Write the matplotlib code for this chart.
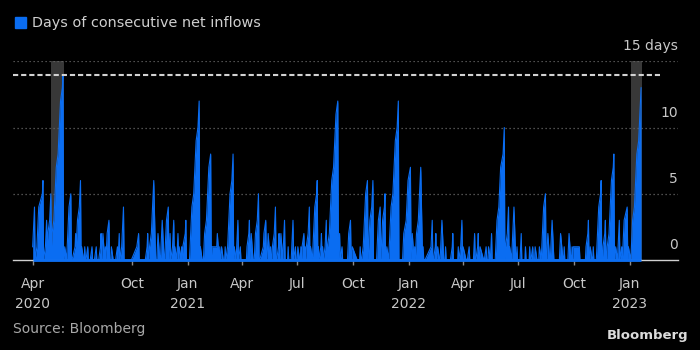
import numpy as np
import pandas as pd
import matplotlib
matplotlib.use('Agg')
import matplotlib.pyplot as plt
from matplotlib.patches import Rectangle

# streaks of net inflow days: last day of each streak and its length
streak_end = [
    '2020-04-23', '2020-05-07', '2020-05-13', '2020-05-20', '2020-06-09', '2020-06-12',
    '2020-06-22', '2020-06-30', '2020-07-08', '2020-07-10', '2020-07-15', '2020-07-20',
    '2020-07-27', '2020-08-03', '2020-08-11', '2020-08-14', '2020-08-18', '2020-08-24',
    '2020-08-28', '2020-09-07', '2020-09-10', '2020-09-17', '2020-10-12', '2020-10-27',
    '2020-11-06', '2020-11-13', '2020-11-20', '2020-11-30', '2020-12-03', '2020-12-09',
    '2020-12-11', '2020-12-16', '2020-12-18', '2020-12-22', '2020-12-29',
    '2021-01-20', '2021-01-22', '2021-02-08', '2021-02-10', '2021-02-19', '2021-02-23',
    '2021-02-26', '2021-03-04', '2021-03-17', '2021-03-19', '2021-03-25', '2021-03-29',
    '2021-04-13', '2021-04-16', '2021-04-28', '2021-05-10', '2021-05-14', '2021-05-18',
    '2021-05-26', '2021-06-01', '2021-06-04', '2021-06-10', '2021-06-16', '2021-06-24',
    '2021-06-28', '2021-07-02', '2021-07-07', '2021-07-12', '2021-07-14', '2021-07-21',
    '2021-07-23', '2021-08-03', '2021-08-05', '2021-08-10', '2021-08-12', '2021-08-18',
    '2021-09-06', '2021-09-09', '2021-09-13', '2021-09-27', '2021-09-30', '2021-10-13',
    '2021-10-25', '2021-11-03', '2021-11-15', '2021-11-23', '2021-11-26', '2021-12-15',
    '2022-01-04', '2022-01-07', '2022-01-11', '2022-01-21', '2022-01-25', '2022-02-09',
    '2022-02-15', '2022-02-18', '2022-02-25', '2022-03-03', '2022-03-15', '2022-03-24',
    '2022-03-30', '2022-04-01', '2022-04-11', '2022-04-20', '2022-04-26', '2022-04-29',
    '2022-05-09', '2022-05-13', '2022-05-18', '2022-06-08', '2022-06-15', '2022-06-17',
    '2022-06-24', '2022-06-29', '2022-07-06', '2022-07-13', '2022-07-20', '2022-07-25',
    '2022-07-29', '2022-08-05', '2022-08-15', '2022-08-19', '2022-08-26', '2022-09-09',
    '2022-09-15', '2022-09-23', '2022-09-28', '2022-09-30', '2022-10-10', '2022-10-25',
    '2022-10-28', '2022-11-02', '2022-11-15', '2022-11-22', '2022-12-06', '2022-12-09',
    '2022-12-15', '2022-12-19', '2022-12-28', '2022-12-30',
    '2023-01-20',
]
streak_len = [
    4, 6, 3, 5, 14, 1,
    5, 2, 6, 1, 1, 1,
    1, 1, 2, 2, 1, 3,
    1, 1, 2, 4, 2, 2,
    6, 2, 3, 4, 2, 3,
    1, 2, 1, 1, 3,
    12, 1, 8, 1, 2, 1,
    1, 1, 8, 1, 3, 1,
    3, 2, 5, 3, 2, 1,
    4, 2, 2, 3, 1, 3,
    1, 1, 1, 2, 1, 4,
    1, 6, 1, 2, 1, 3,
    12, 2, 1, 3, 1, 1,
    6, 6, 4, 5, 1, 12,
    7, 2, 1, 7, 1, 3,
    2, 1, 3, 1, 2, 1,
    3, 1, 1, 2, 2, 1,
    1, 1, 2, 10, 4, 1,
    4, 1, 2, 1, 1, 1,
    1, 1, 5, 2, 3, 2,
    1, 2, 1, 1, 1, 3,
    1, 1, 6, 3, 8, 1,
    3, 1, 4, 1,
    13,
]

# market closures (no data points)
holidays = [
    '2020-05-01', '2020-05-04', '2020-05-05', '2020-06-25', '2020-06-26',
    '2020-10-01', '2020-10-02', '2020-10-05', '2020-10-06', '2020-10-07', '2020-10-08',
    '2020-12-25', '2021-01-01', '2021-02-11', '2021-02-12', '2021-02-15', '2021-02-16',
    '2021-02-17', '2021-04-02', '2021-04-05', '2021-05-03', '2021-05-04', '2021-05-05',
    '2021-06-14', '2021-09-20', '2021-09-21', '2021-10-01', '2021-10-04', '2021-10-05',
    '2021-10-06', '2021-10-07', '2021-12-27', '2022-01-03', '2022-01-31', '2022-02-01',
    '2022-02-02', '2022-02-03', '2022-02-04', '2022-04-04', '2022-04-05', '2022-04-15',
    '2022-05-02', '2022-05-03', '2022-05-04', '2022-06-03', '2022-09-12', '2022-10-03',
    '2022-10-04', '2022-10-05', '2022-10-06', '2022-10-07', '2022-12-26', '2022-12-27',
    '2023-01-02',
]
first_day = '2020-04-20'
last_day = '2023-01-20'

record = 14
highlight = [('2020-05-21', '2020-06-10'), ('2023-01-03', '2023-01-21')]

y_ticks = [0, 5, 10, 15]
y_labels = ['0', '5', '10', '15 days']
x_ticks = ['2020-04-20', '2020-10-01', '2021-01-01', '2021-04-01', '2021-07-01',
           '2021-10-01', '2022-01-01', '2022-04-01', '2022-07-01', '2022-10-01',
           '2023-01-01']
x_labels = ['Apr\n2020', 'Oct', 'Jan\n2021', 'Apr', 'Jul', 'Oct', 'Jan\n2022',
            'Apr', 'Jul', 'Oct', 'Jan\n2023']

blue = '#0a6df2'

days = pd.bdate_range(first_day, last_day)
days = days[~days.isin(pd.to_datetime(holidays))]
count = np.zeros(len(days))
for end, n in zip(streak_end, streak_len):
    i = days.searchsorted(pd.Timestamp(end), side='right') - 1
    j = max(0, i - n + 1)
    count[j:i + 1] = np.arange(1, n + 1)[n - (i + 1 - j):]

fig = plt.figure(figsize=(7, 3.5), dpi=100, facecolor='black')
ax = fig.add_axes([0.019, 0.2571, 0.9496, 0.5678])
ax.set_facecolor('black')

for a, b in highlight:
    ax.axvspan(pd.Timestamp(a), pd.Timestamp(b), color='#383838', lw=0, zorder=0)

for v in y_ticks[1:]:
    ax.axhline(v, color='#686868', lw=0.9, ls=(0, (1, 2.2)), zorder=1)

ax.fill_between(days, count, 0, color=blue, lw=0, zorder=2)
ax.plot(days, count, color=blue, lw=0.8, zorder=2)
ax.plot([days[0], days[-1]], [0, 0], color=blue, lw=2, zorder=4,
        clip_on=False, solid_capstyle='butt')

ax.axhline(record, xmax=0.973, color='#d2d2d2', lw=1.5, dashes=(2.5, 1.4), zorder=3)

ax.set_xlim(pd.Timestamp('2020-03-19'), pd.Timestamp('2023-03-22'))
ax.set_ylim(0, 15)

for v, lab in zip(y_ticks, y_labels):
    ax.text(1.0, v + 1.12, lab, transform=ax.get_yaxis_transform(), ha='right',
            va='center', color='#c8c8c8', fontsize=10)

for s in ['top', 'left', 'right']:
    ax.spines[s].set_visible(False)
ax.spines['bottom'].set_color('#d0d0d0')
ax.spines['bottom'].set_linewidth(1)
ax.tick_params(axis='y', left=False, labelleft=False)
ax.set_xticks(pd.to_datetime(x_ticks))
ax.set_xticklabels(x_labels)
ax.tick_params(axis='x', colors='#8a8a8a', length=3.5, width=1, pad=9,
               labelcolor='#c8c8c8', labelsize=10)
for lab in ax.get_xticklabels():
    lab.set_linespacing(1.5)

# legend, source, logo
fig.add_artist(Rectangle((15 / 700, 1 - 28.3 / 350), 10.7 / 700, 11 / 350,
                         transform=fig.transFigure, color=blue))
fig.text(32 / 700, 1 - 23 / 350, 'Days of consecutive net inflows', color='#d0d0d0',
         fontsize=10.4, va='center')
fig.text(13 / 700, 1 - 329 / 350, 'Source: Bloomberg', color='#a8a8a8',
         fontsize=10, va='center')
fig.text(688 / 700, 1 - 336 / 350, 'Bloomberg', color='#dcdcdc', fontsize=9.5,
         fontweight='bold', ha='right', va='center')

fig.savefig('out.png', dpi=100, facecolor='black')
